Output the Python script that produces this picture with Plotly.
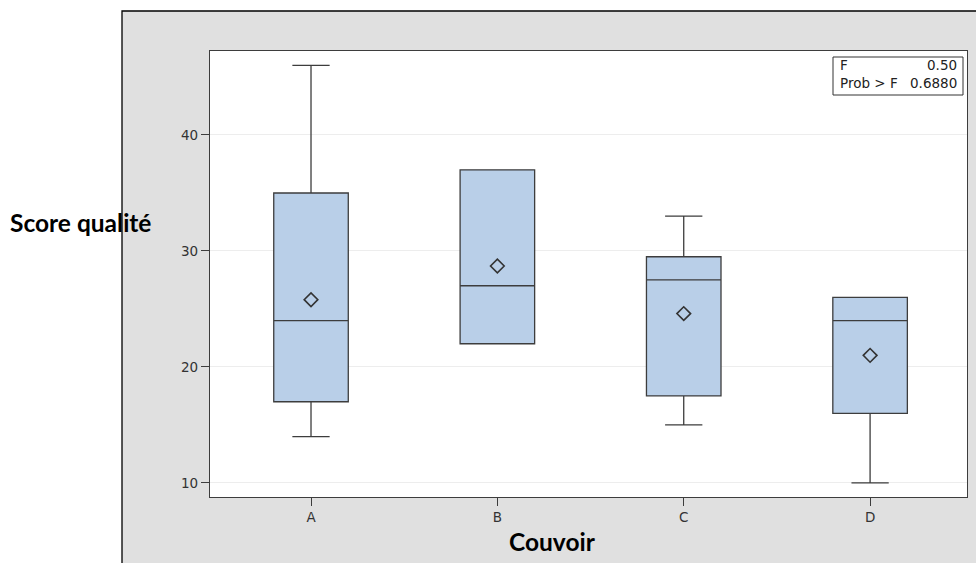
import plotly.graph_objects as go

# ---- data ----
categories = ["A", "B", "C", "D"]
q1 = [17, 22, 17.5, 16]
median = [24, 27, 27.5, 24]
q3 = [35, 37, 29.5, 26]
lower_whisker = [14, 22, 15, 10]
upper_whisker = [46, 37, 33, 26]
means = [25.8, 28.7, 24.6, 21.0]
y_ticks = [10, 20, 30, 40]
f_value = "0.50"
prob_f = "0.6880"

W, H = 976, 563
L, R, T, B = 210, 9, 51, 66
PW, PH = W - L - R, H - T - B


def px(x):
    return (x - L) / PW


def py(y):
    return (H - B - y) / PH


BOX_FILL = "#B9CFE8"
EDGE = "#3d3d3d"
TICK_FONT = dict(family="DejaVu Sans, sans-serif", size=13.5, color="#333333")

fig = go.Figure()
fig.add_trace(go.Box(
    x=categories, q1=q1, median=median, q3=q3,
    lowerfence=lower_whisker, upperfence=upper_whisker,
    width=0.4, whiskerwidth=0.5, fillcolor=BOX_FILL,
    line=dict(color=EDGE, width=1.3), boxpoints=False,
    hoverinfo="skip",
))
fig.add_trace(go.Scatter(
    x=categories, y=means, mode="markers",
    marker=dict(symbol="diamond-open", size=10.5, color="#333333",
                line=dict(width=1.6, color="#333333")),
    hoverinfo="skip",
))

shapes = [
    dict(type="rect", xref="paper", yref="paper", layer="below",
         x0=px(122), x1=px(1100), y0=py(700), y1=py(11),
         fillcolor="#E0E0E0", line=dict(color="#000000", width=1.3)),
    dict(type="rect", xref="paper", yref="paper", layer="below",
         x0=0, x1=1, y0=0, y1=1, fillcolor="#FFFFFF", line=dict(width=0)),
    dict(type="rect", xref="paper", yref="paper", layer="above",
         x0=px(833), x1=px(963), y0=py(95), y1=py(57),
         fillcolor="#FFFFFF", line=dict(color="#333333", width=1)),
]

inset_font = dict(family="DejaVu Sans, sans-serif", size=13.5, color="#222222")
annotations = [
    dict(text="F", x=px(838), y=py(65), xanchor="left", yanchor="middle"),
    dict(text=f_value, x=px(959), y=py(65), xanchor="right", yanchor="middle"),
    dict(text="Prob > F", x=px(838), y=py(83), xanchor="left", yanchor="middle"),
    dict(text=prob_f, x=px(959), y=py(83), xanchor="right", yanchor="middle"),
]
for a in annotations:
    a.update(xref="paper", yref="paper", showarrow=False, font=inset_font)

label_font = dict(family="Lato, Carlito, sans-serif", size=24.5, color="#000000")
annotations += [
    dict(text="<b>Score qualité</b>", x=px(8), y=py(222), xref="paper", yref="paper",
         xanchor="left", yanchor="middle", showarrow=False, font=label_font),
    dict(text="<b>Couvoir</b>", x=px(552), y=py(541), xref="paper", yref="paper",
         xanchor="center", yanchor="middle", showarrow=False, font=label_font),
]

fig.update_layout(
    width=W, height=H,
    margin=dict(l=L, r=R, t=T, b=B, pad=0),
    paper_bgcolor="#FFFFFF", plot_bgcolor="#FFFFFF",
    showlegend=False,
    shapes=shapes, annotations=annotations,
    xaxis=dict(
        type="category", categoryorder="array", categoryarray=categories,
        range=[-0.542, 3.52], showgrid=False, zeroline=False,
        showline=True, mirror=True, linecolor=EDGE, linewidth=1.3,
        ticks="outside", ticklen=8, tickcolor=EDGE, tickwidth=1.3,
        tickfont=TICK_FONT,
    ),
    yaxis=dict(
        range=[8.79, 47.24], tickvals=y_ticks, showgrid=True,
        gridcolor="#EDEDED", gridwidth=1, zeroline=False,
        showline=True, mirror=True, linecolor=EDGE, linewidth=1.3,
        ticks="outside", ticklen=8, tickcolor=EDGE, tickwidth=1.3,
        tickfont=TICK_FONT,
    ),
)

fig.write_html("out.html")
